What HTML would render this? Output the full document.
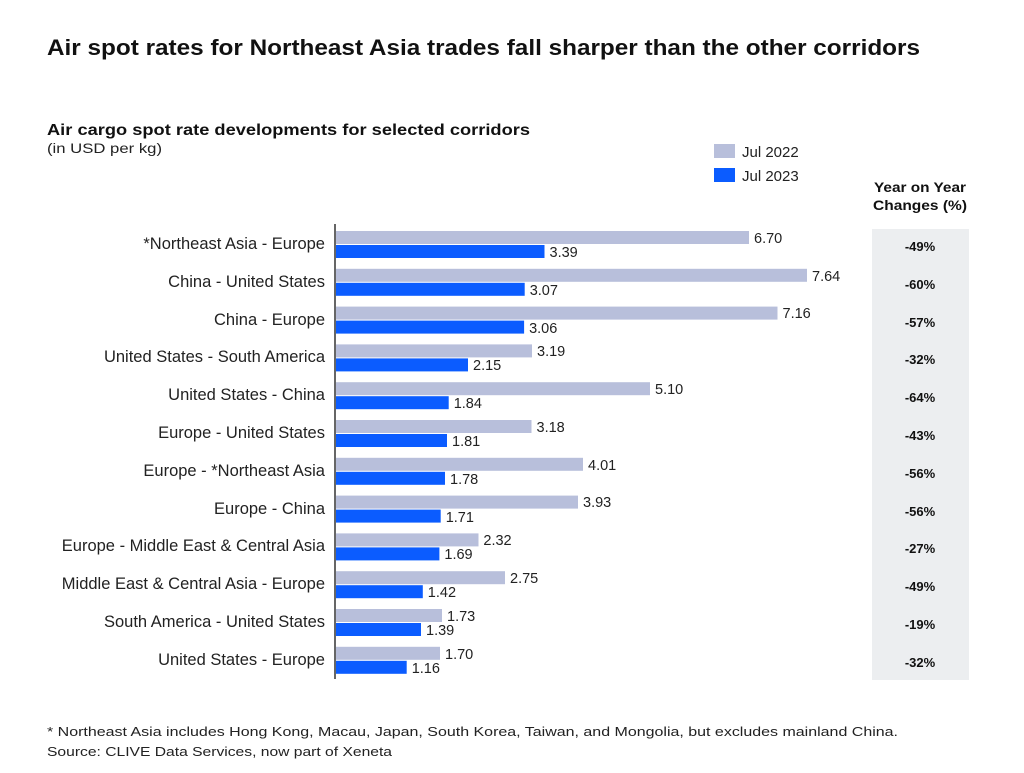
<!DOCTYPE html>
<html><head><meta charset="utf-8"><style>
body{margin:0;background:#fff;width:1024px;height:768px;overflow:hidden}
svg{font-family:"Liberation Sans",sans-serif}
</style></head><body>
<svg width="1024" height="768" xmlns="http://www.w3.org/2000/svg">
<text x="47" y="55" font-size="22" font-weight="bold" fill="#111" textLength="873" lengthAdjust="spacingAndGlyphs">Air spot rates for Northeast Asia trades fall sharper than the other corridors</text>
<text x="47" y="135" font-size="15.5" font-weight="bold" fill="#111" textLength="483" lengthAdjust="spacingAndGlyphs">Air cargo spot rate developments for selected corridors</text>
<text x="47" y="153" font-size="14" fill="#222" textLength="115" lengthAdjust="spacingAndGlyphs">(in USD per kg)</text>
<rect x="714" y="144" width="21" height="14" fill="#b8bfdb"/>
<text x="742" y="157" font-size="15" fill="#222">Jul 2022</text>
<rect x="714" y="168" width="21" height="14" fill="#0b5cff"/>
<text x="742" y="181" font-size="15" fill="#222">Jul 2023</text>
<text x="920" y="192" font-size="13.5" font-weight="bold" text-anchor="middle" fill="#111" textLength="92" lengthAdjust="spacingAndGlyphs">Year on Year</text>
<text x="920" y="210" font-size="13.5" font-weight="bold" text-anchor="middle" fill="#111" textLength="94" lengthAdjust="spacingAndGlyphs">Changes (%)</text>
<rect x="872" y="229" width="97" height="451" fill="#eceef0"/>
<line x1="335" y1="224" x2="335" y2="679" stroke="#333" stroke-width="1.5"/>
<g fill="#b8bfdb">
<rect x="336" y="231" width="413" height="13"/>
<rect x="336" y="268.8" width="471" height="13"/>
<rect x="336" y="306.6" width="441.5" height="13"/>
<rect x="336" y="344.4" width="196" height="13"/>
<rect x="336" y="382.2" width="314" height="13"/>
<rect x="336" y="420" width="195.5" height="13"/>
<rect x="336" y="457.8" width="247" height="13"/>
<rect x="336" y="495.6" width="242" height="13"/>
<rect x="336" y="533.4" width="142.5" height="13"/>
<rect x="336" y="571.2" width="169" height="13"/>
<rect x="336" y="609" width="106" height="13"/>
<rect x="336" y="646.8" width="104" height="13"/>
</g>
<g fill="#0b5cff">
<rect x="336" y="245" width="208.5" height="13"/>
<rect x="336" y="282.8" width="188.7" height="13"/>
<rect x="336" y="320.6" width="188.1" height="13"/>
<rect x="336" y="358.4" width="132" height="13"/>
<rect x="336" y="396.2" width="112.7" height="13"/>
<rect x="336" y="434" width="111" height="13"/>
<rect x="336" y="471.8" width="109" height="13"/>
<rect x="336" y="509.6" width="104.7" height="13"/>
<rect x="336" y="547.4" width="103.4" height="13"/>
<rect x="336" y="585.2" width="86.8" height="13"/>
<rect x="336" y="623" width="85" height="13"/>
<rect x="336" y="660.8" width="70.7" height="13"/>
</g>
<g font-size="16.5" fill="#222" text-anchor="end">
<text x="325" y="249">*Northeast Asia - Europe</text>
<text x="325" y="287">China - United States</text>
<text x="325" y="325">China - Europe</text>
<text x="325" y="362">United States - South America</text>
<text x="325" y="400">United States - China</text>
<text x="325" y="438">Europe - United States</text>
<text x="325" y="476">Europe - *Northeast Asia</text>
<text x="325" y="514">Europe - China</text>
<text x="325" y="551">Europe - Middle East &amp; Central Asia</text>
<text x="325" y="589">Middle East &amp; Central Asia - Europe</text>
<text x="325" y="627">South America - United States</text>
<text x="325" y="665">United States - Europe</text>
</g>
<g font-size="14.5" fill="#222">
<text x="754" y="243">6.70</text><text x="549.5" y="257">3.39</text>
<text x="812" y="281">7.64</text><text x="529.7" y="295">3.07</text>
<text x="782.5" y="318">7.16</text><text x="529.1" y="333">3.06</text>
<text x="537" y="356">3.19</text><text x="473" y="370">2.15</text>
<text x="655" y="394">5.10</text><text x="453.7" y="408">1.84</text>
<text x="536.5" y="432">3.18</text><text x="452" y="446">1.81</text>
<text x="588" y="470">4.01</text><text x="450" y="484">1.78</text>
<text x="583" y="507">3.93</text><text x="445.7" y="522">1.71</text>
<text x="483.4" y="545">2.32</text><text x="444.4" y="559">1.69</text>
<text x="510" y="583">2.75</text><text x="427.8" y="597">1.42</text>
<text x="447" y="621">1.73</text><text x="426" y="635">1.39</text>
<text x="445" y="659">1.70</text><text x="411.7" y="673">1.16</text>
</g>
<g font-size="13" font-weight="bold" text-anchor="middle" fill="#111">
<text x="920" y="251">-49%</text>
<text x="920" y="289">-60%</text>
<text x="920" y="327">-57%</text>
<text x="920" y="364">-32%</text>
<text x="920" y="402">-64%</text>
<text x="920" y="440">-43%</text>
<text x="920" y="478">-56%</text>
<text x="920" y="516">-56%</text>
<text x="920" y="553">-27%</text>
<text x="920" y="591">-49%</text>
<text x="920" y="629">-19%</text>
<text x="920" y="667">-32%</text>
</g>
<text x="47" y="736" font-size="13" fill="#222" textLength="851" lengthAdjust="spacingAndGlyphs">* Northeast Asia includes Hong Kong, Macau, Japan, South Korea, Taiwan, and Mongolia, but excludes mainland China.</text>
<text x="47" y="756" font-size="13" fill="#222" textLength="345" lengthAdjust="spacingAndGlyphs">Source: CLIVE Data Services, now part of Xeneta</text>
</svg>
</body></html>
